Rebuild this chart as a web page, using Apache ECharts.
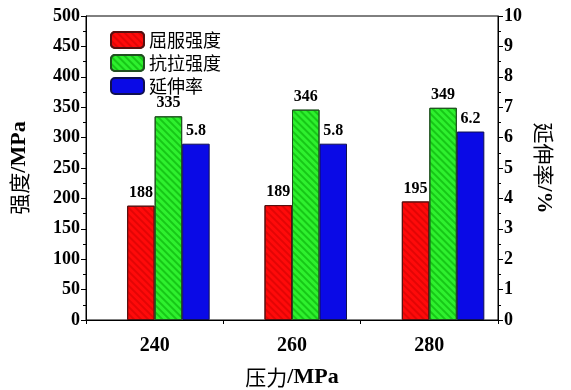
<!DOCTYPE html>
<html>
<head>
<meta charset="utf-8">
<script src="https://cdn.jsdelivr.net/npm/echarts@6/dist/echarts.min.js"></script>
<style>html,body{margin:0;padding:0;background:#fff}#c{width:571px;height:390px}</style>
</head>
<body>
<div id="c"></div>
<script>
const categories = ['240', '260', '280'];
const yieldStrength = [188, 189, 195];
const tensileStrength = [335, 346, 349];
const elongation = [5.8, 5.8, 6.2];
const seriesNames = ['屈服强度', '抗拉强度', '延伸率'];

const FONT = '"Liberation Serif", "Times New Roman", "Noto Sans CJK SC", serif';
const CJK = '"Noto Sans CJK SC", "Liberation Serif", serif';

function hatch(color) {
  return { symbol: 'rect', symbolSize: 1, dashArrayX: [1, 0], dashArrayY: [1.5, 2.5], rotation: Math.PI / 4, color: color };
}
const lbl = { show: true, position: 'top', distance: 5, color: '#000', fontFamily: FONT, fontWeight: 'bold', fontSize: 16 };
const nameRich = {
  c: { fontFamily: CJK, fontWeight: 'normal', fontSize: 21, color: '#000' },
  l: { fontFamily: FONT, fontWeight: 'bold', fontSize: 22, color: '#000' }
};

const chart = echarts.init(document.getElementById('c'), null, { renderer: 'canvas' });
chart.setOption({
  animation: false,
  backgroundColor: '#fff',
  grid: { left: 86, right: 73, top: 16, bottom: 70, show: true, borderColor: '#000', borderWidth: 1,
    backgroundColor: 'transparent', containLabel: false, outerBoundsMode: 'none' },
  legend: {
    data: seriesNames, orient: 'vertical', left: 105, top: 26, itemWidth: 33, itemHeight: 16, itemGap: 5,
    textStyle: { fontFamily: CJK, fontSize: 18, color: '#000' }
  },
  xAxis: [{
    type: 'category', data: categories, position: 'bottom',
    axisLine: { lineStyle: { color: '#000', width: 1 } },
    axisTick: { alignWithLabel: true, length: 4, inside: false, lineStyle: { color: '#000' } },
    axisLabel: { margin: 16, color: '#000', fontFamily: FONT, fontWeight: 'bold', fontSize: 20 },
    name: '{c|压力}{l|/MPa}', nameLocation: 'middle', nameGap: 46,
    nameTextStyle: { rich: nameRich }
  }, {
    type: 'category', data: categories, position: 'bottom', offset: 0,
    axisLine: { show: false }, axisLabel: { show: false },
    axisTick: { show: true, length: 4, lineStyle: { color: '#000' } }
  }],
  yAxis: [{
    type: 'value', min: 0, max: 500, interval: 50, position: 'left',
    axisLine: { show: true, lineStyle: { color: '#000' } },
    axisTick: { show: true, length: 5, lineStyle: { color: '#000' } },
    minorTick: { show: true, splitNumber: 2, length: 3, lineStyle: { color: '#000' } },
    splitLine: { show: false },
    axisLabel: { margin: 6, color: '#000', fontFamily: FONT, fontWeight: 'bold', fontSize: 18 },
    name: '{c|强度}{l|/MPa}', nameLocation: 'middle', nameGap: 56, nameRotate: 90,
    nameTextStyle: { rich: nameRich }
  }, {
    type: 'value', min: 0, max: 10, interval: 1, position: 'right',
    axisLine: { show: true, lineStyle: { color: '#000' } },
    axisTick: { show: true, length: 5, lineStyle: { color: '#000' } },
    minorTick: { show: true, splitNumber: 2, length: 3, lineStyle: { color: '#000' } },
    splitLine: { show: false },
    axisLabel: { margin: 6, color: '#000', fontFamily: FONT, fontWeight: 'bold', fontSize: 18 },
    name: '{c|延伸率}{l|/%}', nameLocation: 'middle', nameGap: 34, nameRotate: -90,
    nameTextStyle: { rich: nameRich }
  }],
  series: [{
    name: '_spacer', type: 'bar', xAxisIndex: 0, yAxisIndex: 0, barWidth: 27.5, barGap: '0%',
    data: categories.map(() => '-'), silent: true
  }, {
    name: seriesNames[0], type: 'bar', xAxisIndex: 0, yAxisIndex: 0, barWidth: 27.5, barGap: '0%',
    data: yieldStrength,
    itemStyle: { color: '#ff0a0a', borderColor: '#551010', borderWidth: 1, decal: hatch('rgba(200,0,0,0.5)') },
    label: lbl
  }, {
    name: seriesNames[1], type: 'bar', xAxisIndex: 0, yAxisIndex: 0, barWidth: 27.5, barGap: '0%',
    data: tensileStrength,
    itemStyle: { color: '#2ef02e', borderColor: '#205020', borderWidth: 1, decal: hatch('rgba(0,160,0,0.5)') },
    label: lbl
  }, {
    name: seriesNames[2], type: 'bar', xAxisIndex: 0, yAxisIndex: 1, barWidth: 27.5, barGap: '0%',
    data: elongation,
    itemStyle: { color: '#0a0ae6', borderColor: '#101050', borderWidth: 1 },
    label: Object.assign({}, lbl, { formatter: p => p.value.toFixed(1) })
  }]
});
</script>
</body>
</html>
